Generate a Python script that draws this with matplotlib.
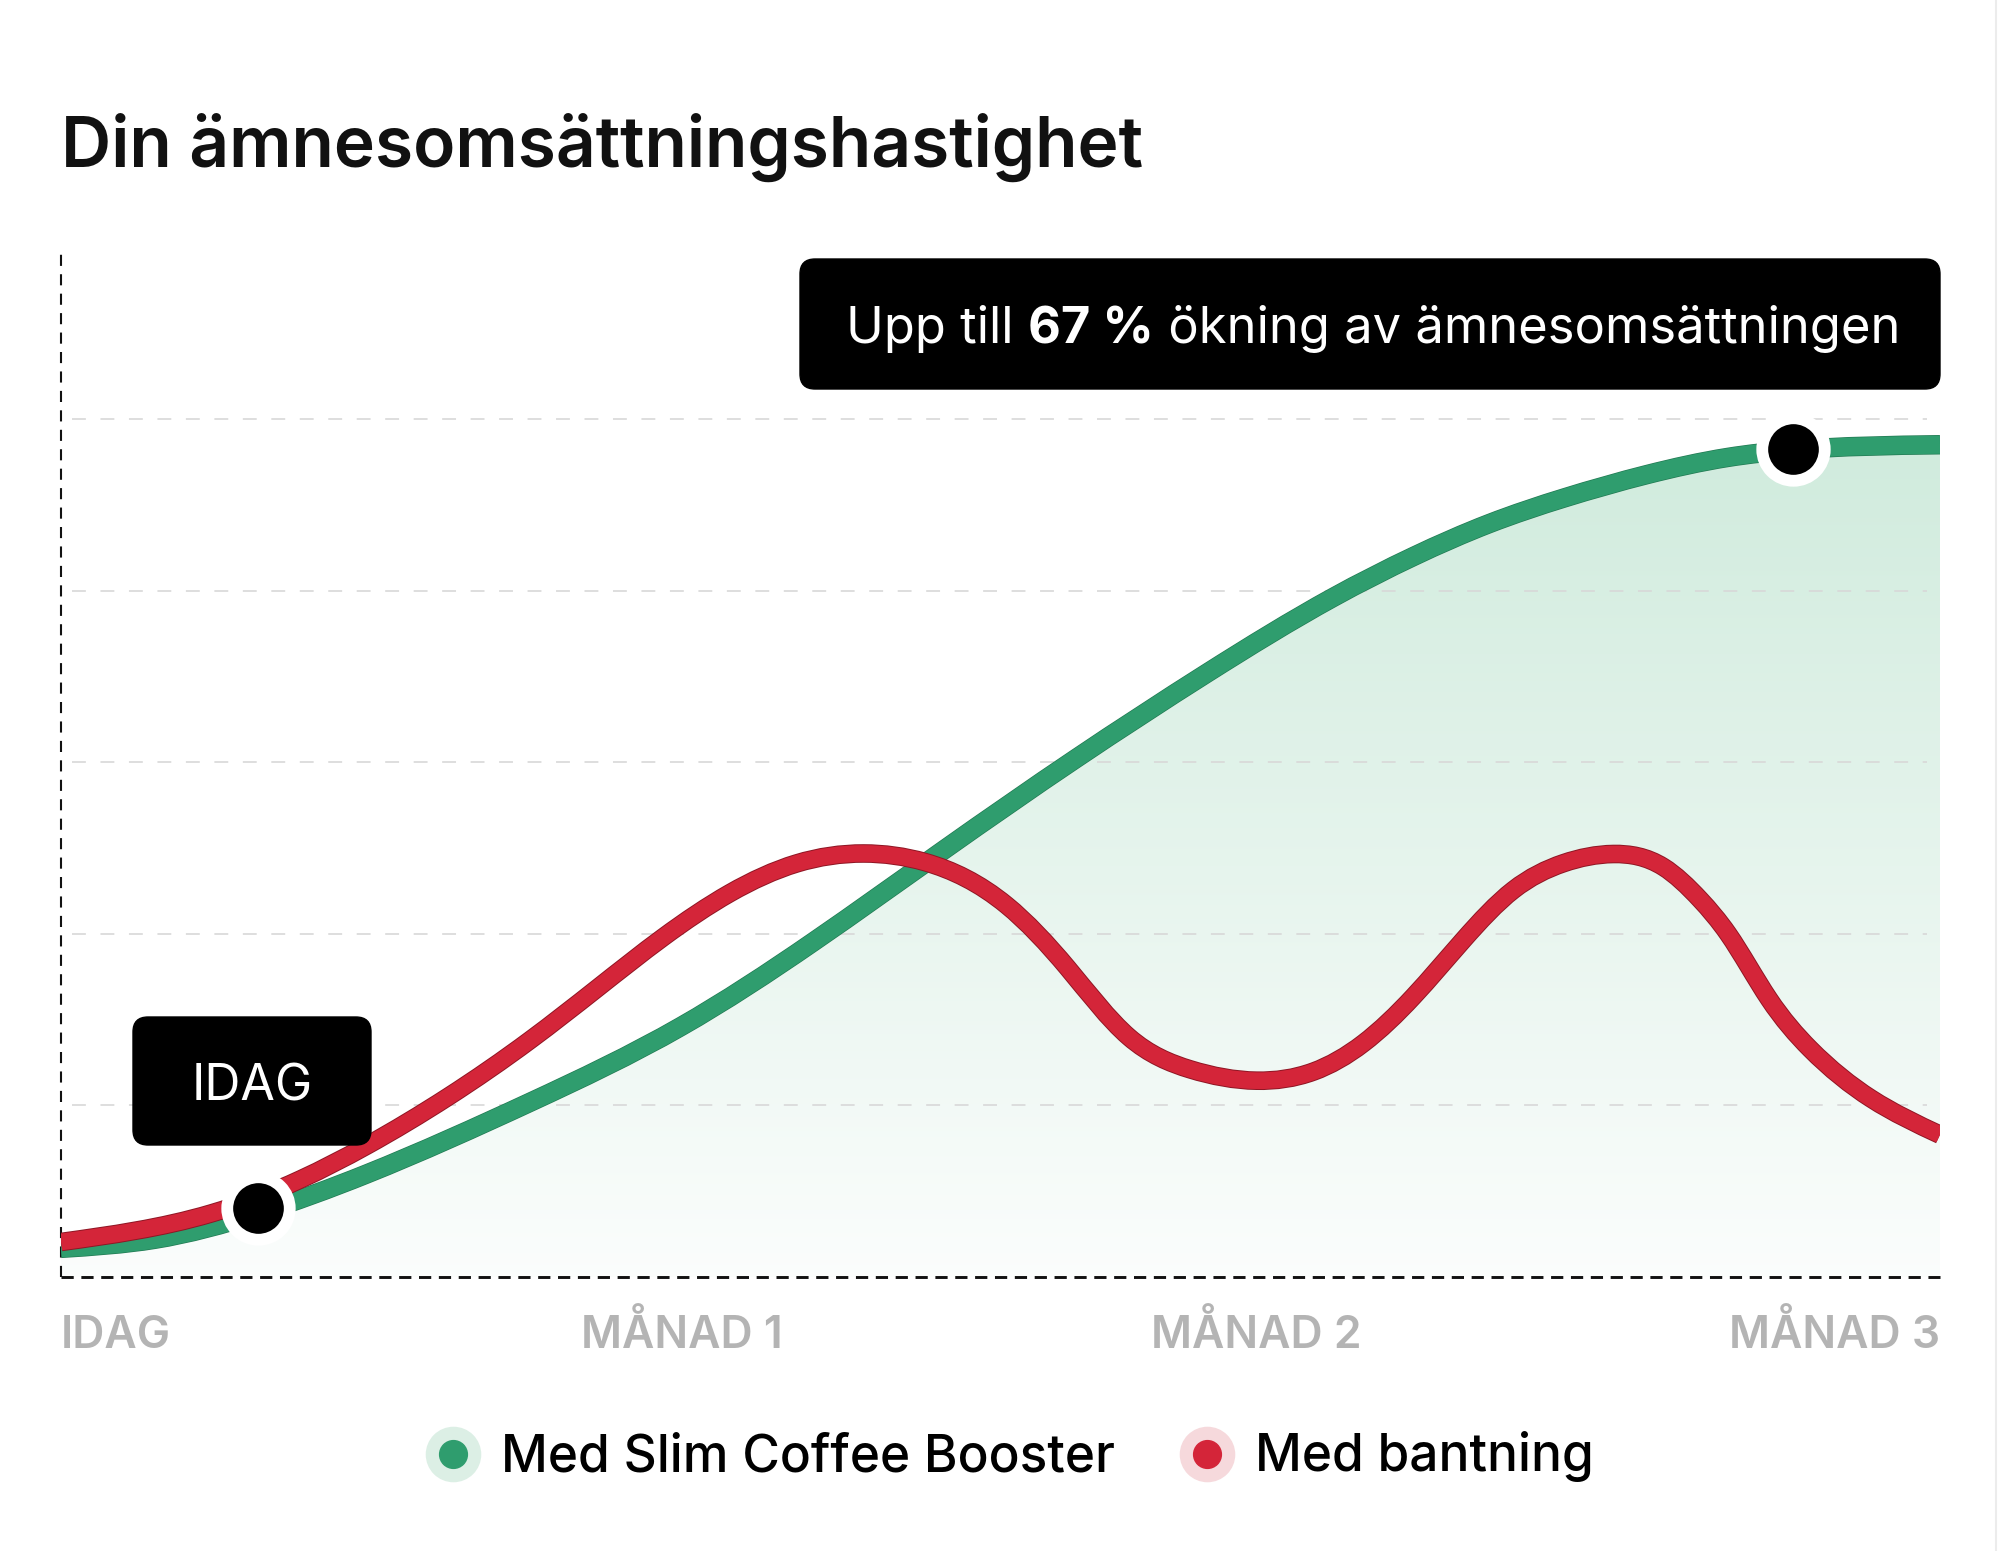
import matplotlib
matplotlib.use("Agg")
import matplotlib.pyplot as plt
import numpy as np
from matplotlib.path import Path
from matplotlib.patches import PathPatch, FancyBboxPatch
from matplotlib.lines import Line2D
from matplotlib.legend_handler import HandlerTuple
import matplotlib.patheffects as pe

plt.rcParams['font.family'] = ['Inter', 'DejaVu Sans']
plt.rcParams['lines.scale_dashes'] = False

# ---------------- data ----------------
title = "Din ämnesomsättningshastighet"
x_labels = ["IDAG", "MÅNAD 1", "MÅNAD 2", "MÅNAD 3"]
x_label_pos = [0, 33.06, 63.6, 100]

green_x = [0, 5, 10.46, 16.26, 25, 33, 40, 47, 54, 61, 67.7, 72, 76, 80, 84.4, 88.7, 92.2, 100]
green_y = [0.167, 0.22, 0.37, 0.60, 1.02, 1.46, 1.95, 2.49, 3.02, 3.52, 3.96, 4.20, 4.39, 4.54,
           4.676, 4.776, 4.82, 4.85]

red_x = [0, 7.98, 12.77, 16.26, 20.6, 24.96, 28.51, 32.05, 35.6, 39.15, 42.72, 45.98, 50.32, 53.58,
         56.84, 60.1, 63.63, 66.65, 69.31, 71.97, 74.63, 77.29, 79.95, 82.61, 85.27, 87.23, 88.72,
         90.9, 93.08, 96.33, 100]
red_y = [0.204, 0.37, 0.57, 0.765, 1.05, 1.38, 1.68, 1.98, 2.237, 2.41, 2.468, 2.418, 2.167, 1.80,
         1.398, 1.21, 1.144, 1.197, 1.362, 1.634, 1.964, 2.255, 2.411, 2.465, 2.39, 2.20, 2.00,
         1.62, 1.33, 1.04, 0.829]

marker_x = [10.46, 92.2]
marker_y = [0.40, 4.826]

series_names = ["Med Slim Coffee Booster", "Med bantning"]
callout_parts = ["Upp till ", "67 %", " ökning av ämnesomsättningen"]
idag_label = "IDAG"

GREEN = "#2f9d6e"
GREEN_DARK = "#227a53"
RED = "#d42539"
RED_DARK = "#8e1624"

W, H = 2000, 1551
fig = plt.figure(figsize=(W / 100, H / 100), dpi=100)
fig.patch.set_facecolor("white")

L, R, T, B = 61, 1940, 253, 1277
UNIT = 171.6
ax = fig.add_axes([L / W, 1 - B / H, (R - L) / W, (B - T) / H])
ax.set_xlim(0, 100)
ax.set_ylim(0, (B - T) / UNIT)
ax.axis("off")


def smooth_path(xs, ys, close_to=None):
    """Natural cubic spline through the points, expressed as Bezier path segments."""
    x = np.asarray(xs, float)
    y = np.asarray(ys, float)
    n = len(x)
    h = np.diff(x)
    A = np.zeros((n, n))
    r = np.zeros(n)
    A[0, 0] = 1
    A[-1, -1] = 1
    for i in range(1, n - 1):
        A[i, i - 1] = h[i - 1]
        A[i, i] = 2 * (h[i - 1] + h[i])
        A[i, i + 1] = h[i]
        r[i] = 6 * ((y[i + 1] - y[i]) / h[i] - (y[i] - y[i - 1]) / h[i - 1])
    M = np.linalg.solve(A, r)
    m = np.zeros(n)
    for i in range(n - 1):
        m[i] = (y[i + 1] - y[i]) / h[i] - h[i] * (2 * M[i] + M[i + 1]) / 6
    m[-1] = (y[-1] - y[-2]) / h[-1] + h[-1] * (M[-2] + 2 * M[-1]) / 6
    verts = [(x[0], y[0])]
    codes = [Path.MOVETO]
    for i in range(n - 1):
        hh = h[i]
        verts += [(x[i] + hh / 3, y[i] + m[i] * hh / 3),
                  (x[i + 1] - hh / 3, y[i + 1] - m[i + 1] * hh / 3),
                  (x[i + 1], y[i + 1])]
        codes += [Path.CURVE4] * 3
    if close_to is not None:
        verts += [(x[-1], close_to), (x[0], close_to), (x[0], y[0])]
        codes += [Path.LINETO, Path.LINETO, Path.CLOSEPOLY]
    return Path(verts, codes)


# gradient fill under green
fill_path = smooth_path(green_x, green_y, close_to=0)
fill_patch = PathPatch(fill_path, facecolor="none", edgecolor="none")
ax.add_patch(fill_patch)
top_c = np.array([0.815, 0.922, 0.866])
bot_c = np.array([0.985, 0.993, 0.99])
t = np.linspace(0, 1, 256)[:, None]
grad = top_c * (1 - t) + bot_c * t
img = np.repeat(grad[:, None, :], 2, axis=1)
im = ax.imshow(img, extent=[0, 100, 0, 4.9], aspect="auto", origin="upper", zorder=1,
               interpolation="bilinear")
im.set_clip_path(fill_patch)

# gridlines
for gy in [1, 2, 3, 4, 5]:
    ax.plot([0.6, 99.3], [gy, gy], color="#d8d8d8", lw=1.4, dashes=(10, 10.5), zorder=2, alpha=0.85)

# axis dashed lines
ax.plot([0, 0], [0, (B - T) / UNIT], color="#111111", lw=1.5, dashes=(8, 6), zorder=3, clip_on=False)
ax.plot([0, 100], [0, 0], color="#111111", lw=2.1, dashes=(8.8, 5.5), zorder=3, clip_on=False)

# lines
gpath = smooth_path(green_x, green_y)
gp = PathPatch(gpath, facecolor="none", edgecolor=GREEN, lw=13, capstyle="butt", zorder=4)
gp.set_path_effects([pe.Stroke(linewidth=14.0, foreground=GREEN_DARK), pe.Normal()])
ax.add_patch(gp)
rpath = smooth_path(red_x, red_y)
rp = PathPatch(rpath, facecolor="none", edgecolor=RED, lw=12, capstyle="butt", zorder=5)
rp.set_path_effects([pe.Stroke(linewidth=13.4, foreground=RED_DARK), pe.Normal()])
ax.add_patch(rp)

# markers
ax.plot(marker_x, marker_y, linestyle="none", marker="o", ms=45, mfc="black", mec="white",
        mew=8.5, zorder=6, clip_on=False)

# x labels
for lab, xp in zip(x_labels, x_label_pos):
    ha = "left" if xp == 0 else ("right" if xp == 100 else "center")
    ax.text(xp, -0.414, lab, ha=ha, va="baseline", fontsize=32, color="#b4b4b4",
            fontweight="semibold")

# overlay in pixel coords
ov = fig.add_axes([0, 0, 1, 1], zorder=10)
ov.set_xlim(0, W)
ov.set_ylim(H, 0)
ov.axis("off")
ov.patch.set_alpha(0)

ov.text(61, 167, title, fontsize=50, fontweight="semibold", color="#111111",
        ha="left", va="baseline")

# callout box
ov.add_patch(FancyBboxPatch((800 + 15, 259 + 15), 1140 - 30, 130 - 30,
                            boxstyle="round,pad=15", fc="black", ec="black", zorder=11))
fig.canvas.draw()
renderer = fig.canvas.get_renderer()
xcur = 846
for part, wt in zip(callout_parts, ["normal", "bold", "normal"]):
    tx = ov.text(xcur, 343, part, fontsize=36.5, color="white", fontweight=wt,
                 ha="left", va="baseline", zorder=12)
    bb = tx.get_window_extent(renderer=renderer)
    xcur += bb.width

# IDAG box
ov.add_patch(FancyBboxPatch((133 + 15, 1017 + 15), 238 - 30, 128 - 30,
                            boxstyle="round,pad=15", fc="black", ec="black", zorder=11))
ov.text(252, 1082, idag_label, fontsize=36, color="white", ha="center", va="center_baseline", zorder=12)

# right border
ov.plot([1996, 1996], [0, H], color="#ececec", lw=1.5)

# legend
handles = []
for c, halo in [(GREEN, "#dcefe5"), (RED, "#f6d9dc")]:
    h1 = Line2D([], [], linestyle="none", marker="o", ms=40, mfc=halo, mec="none")
    h2 = Line2D([], [], linestyle="none", marker="o", ms=20, mfc=c, mec=c)
    handles.append((h1, h2))
leg = fig.legend(handles, series_names, handler_map={tuple: HandlerTuple(ndivide=1)},
                 loc="center", bbox_to_anchor=(1008 / W, 1 - 1457 / H), ncol=2, frameon=False,
                 prop={"size": 37, "weight": "medium"}, handlelength=1.2, handletextpad=0.33,
                 columnspacing=1.19)

fig.savefig("out.png", dpi=100, facecolor="white")
